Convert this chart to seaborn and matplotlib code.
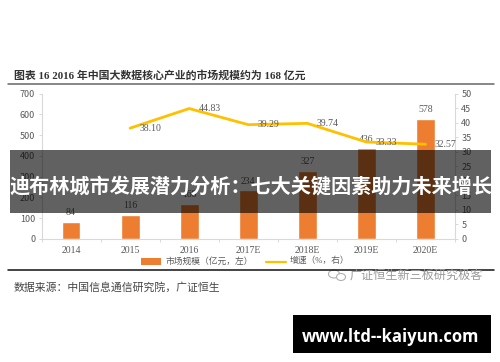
import matplotlib
matplotlib.use("Agg")
import matplotlib.pyplot as plt
import seaborn as sns
import pandas as pd
from matplotlib.patches import Rectangle, Ellipse
from matplotlib.lines import Line2D

years = ["2014", "2015", "2016", "2017E", "2018E", "2019E", "2020E"]
market_size = [84, 116, 168, 234, 327, 436, 578]
growth = [None, 38.10, 44.83, 39.29, 39.74, 33.33, 32.57]
size_labels = ["84", "116", "168", "234", "327", "436", "578"]
growth_labels = ["", "38.10", "44.83", "39.29", "39.74", "33.33", "32.57"]
title = "图表 16 2016 年中国大数据核心产业的市场规模约为 168 亿元"
source = "数据来源：中国信息通信研究院，广证恒生"
banner = "迪布林城市发展潜力分析：七大关键因素助力未来增长"
site = "www.ltd--kaiyun.com"
watermark = "广证恒生新三板研究极客"
legend_bar = "市场规模（亿元，左）"
legend_line = "增速（%，右）"

W, H = 500, 362
sns.set_theme(style="white")
plt.rcParams["font.family"] = ["Noto Sans CJK SC", "DejaVu Sans"]
fig = plt.figure(figsize=(W / 100, H / 100), dpi=100, facecolor="white")
ax = fig.add_axes([41.5 / W, 1 - 239 / H, (455 - 41.5) / W, (239 - 93.5) / H])
df = pd.DataFrame({"year": years, "size": market_size, "growth": growth})
ORANGE, GOLD, GRID, TXT = "#ED7D31", "#FFC000", "#D9D9D9", "#595959"
serif_num = ["Liberation Serif", "Noto Sans CJK SC"]
sans_cjk = ["Liberation Serif", "Noto Sans CJK SC"]

sns.barplot(data=df, x="year", y="size", color=ORANGE, width=0.32, saturation=1, ax=ax)
ax.set_xlim(-0.5, 6.5)
ax.set_ylim(0, 700)
ax.set_xlabel("")
ax.set_ylabel("")
ax.set_yticks(range(0, 701, 100))
ax.tick_params(axis="both", labelsize=6.5, labelcolor=TXT, color=GRID, length=2.5, width=0.7, pad=2, left=True, bottom=True)
ax.set_xticks([i - 0.5 for i in range(8)], minor=True)
ax.tick_params(axis="x", which="major", bottom=False, pad=2.5, labelsize=7)
ax.tick_params(axis="x", which="minor", bottom=True, color=GRID, length=2.5, width=0.7)
for lab in ax.get_xticklabels():
    lab.set_family(serif_num)
for s in ["top", "right"]:
    ax.spines[s].set_visible(False)
for s in ["left", "bottom"]:
    ax.spines[s].set_color(GRID)
    ax.spines[s].set_linewidth(0.8)

ax2 = ax.twinx()
sns.lineplot(data=df, x="year", y="growth", color=GOLD, linewidth=2, ax=ax2, sort=False)
ax2.set_ylim(0, 50)
ax2.set_xlim(-0.5, 6.5)
ax2.set_ylabel("")
ax2.set_yticks(range(0, 51, 5))
ax2.tick_params(axis="y", labelsize=6.5, labelcolor=TXT, color=GRID, length=2.5, width=0.7, pad=2, right=True)
for s in ["top", "left", "bottom"]:
    ax2.spines[s].set_visible(False)
ax2.spines["right"].set_color(GRID)
ax2.spines["right"].set_linewidth(0.8)

for i, (v, lab) in enumerate(zip(market_size, size_labels)):
    ax.annotate(lab, (i, v), xytext=(0, 3.5), textcoords="offset points", ha="center", va="bottom", fontsize=7, color=TXT, family=serif_num)
for i, (v, lab) in enumerate(zip(growth, growth_labels)):
    if lab:
        ax2.annotate(lab, (i, v), xytext=(14.5, 0), textcoords="offset points", ha="center", va="center", fontsize=7, color=TXT, family=serif_num)

def px_line(x0, x1, y, color, lw):
    fig.add_artist(Line2D([x0 / W, x1 / W], [1 - y / H] * 2, color=color, lw=lw))

fig.text(14.5 / W, 1 - 75 / H, title, fontsize=7.85, fontweight="bold", color="#333333", ha="left", va="center", family=sans_cjk)
px_line(8, 494, 83.5, "#666666", 1.1)
px_line(8, 494, 270, "#111111", 1.1)
fig.add_artist(Rectangle((141 / W, 1 - 264.5 / H), 20 / W, 6.5 / H, color=ORANGE, lw=0))
fig.text(166 / W, 1 - 261 / H, legend_bar, fontsize=6.3, color=TXT, va="center", family=sans_cjk)
px_line(266, 286, 261.5, GOLD, 1.6)
fig.text(290 / W, 1 - 261 / H, legend_line, fontsize=6.3, color=TXT, va="center", family=sans_cjk)
fig.text(14 / W, 1 - 287 / H, source, fontsize=7.8, color="#444444", va="center", family=sans_cjk)
fig.text(350 / W, 1 - 275 / H, watermark, fontsize=8.7, color="#9a9a9a", va="center", ha="left")
fig.add_artist(Ellipse((334 / W, 1 - 274 / H), 11 / W, 8 / H, fill=False, ec="#b0b0b0", lw=0.8))
fig.add_artist(Ellipse((341 / W, 1 - 277 / H), 9 / W, 7 / H, fc="white", ec="#b0b0b0", lw=0.8))

fig.add_artist(Rectangle((10 / W, 1 - 213 / H), 481 / W, 63 / H, color="black", alpha=0.62, lw=0))
fig.text(250.5 / W, 1 - 185.5 / H, banner, fontsize=14.5, fontweight="bold", color="white", ha="center", va="center")
fig.add_artist(Rectangle((293 / W, 1 - 353 / H), 198 / W, 38 / H, color="black", lw=0))
fig.text(391 / W, 1 - 337 / H, site, fontsize=12, fontweight="bold", color="white", ha="center", va="center", family=["Open Sans", "Liberation Sans"])
fig.savefig("out.png", dpi=100)
